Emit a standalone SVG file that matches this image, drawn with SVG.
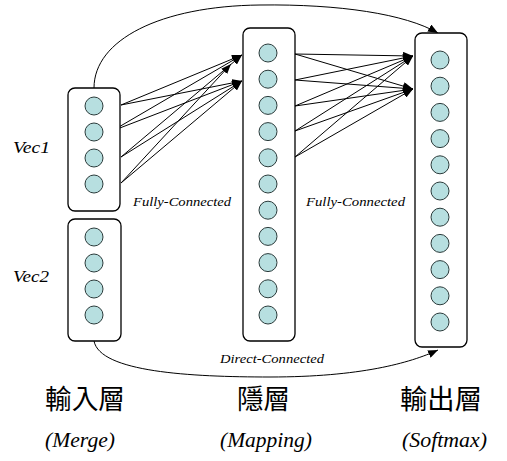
<svg xmlns="http://www.w3.org/2000/svg" width="507" height="461" viewBox="0 0 507 461">
<style>
.box{fill:#fff;stroke:#000;stroke-width:1.3}
.n{fill:#b7dfe0;stroke:#2b3b3b;stroke-width:1}
.ln{stroke:#000;stroke-width:1;fill:none;marker-end:url(#ah)}
.it{font-family:"Liberation Serif",serif;font-style:italic;fill:#000}
.cjk{font-family:"Noto Sans CJK TC","Noto Sans CJK SC",serif;font-size:27px;fill:#000}
</style>
<defs>
<marker id="ah" markerUnits="userSpaceOnUse" markerWidth="11" markerHeight="8" refX="10" refY="4" orient="auto">
<path d="M0,0 L10,4 L0,8 z" fill="#000"/>
</marker>
</defs>
<rect width="507" height="461" fill="#fff"/>
<g id="connectors">
<path class="ln" d="M94,88 C94,40 160,6 260,5 C340,4 405,14 438,33"/>
<path class="ln" d="M94,341 C100,372 190,377 270,377 C360,377 410,363 438,350"/>
<line class="ln" x1="121" y1="105" x2="242" y2="55"/>
<line class="ln" x1="121" y1="105" x2="242" y2="81"/>
<line class="ln" x1="112" y1="131" x2="242" y2="55"/>
<line class="ln" x1="112" y1="131" x2="242" y2="81"/>
<line class="ln" x1="121" y1="157" x2="242" y2="55"/>
<line class="ln" x1="121" y1="157" x2="242" y2="81"/>
<line class="ln" x1="121" y1="183" x2="231" y2="64"/>
<line class="ln" x1="121" y1="183" x2="242" y2="81"/>
<line class="ln" x1="295" y1="54" x2="413" y2="56"/>
<line class="ln" x1="295" y1="54" x2="413" y2="89"/>
<line class="ln" x1="295" y1="80" x2="413" y2="56"/>
<line class="ln" x1="295" y1="80" x2="413" y2="89"/>
<line class="ln" x1="295" y1="106" x2="413" y2="56"/>
<line class="ln" x1="295" y1="106" x2="413" y2="89"/>
<line class="ln" x1="295" y1="131" x2="413" y2="56"/>
<line class="ln" x1="295" y1="131" x2="413" y2="89"/>
<line class="ln" x1="295" y1="157" x2="413" y2="56"/>
<line class="ln" x1="295" y1="157" x2="413" y2="89"/>
</g>
<g id="vec1">
<rect class="box" x="68" y="88" width="52" height="123" rx="7"/>
<circle class="n" cx="94" cy="106" r="9"/>
<circle class="n" cx="94" cy="132" r="9"/>
<circle class="n" cx="94" cy="158" r="9"/>
<circle class="n" cx="94" cy="184" r="9"/>
</g>
<g id="vec2">
<rect class="box" x="68" y="219" width="53" height="122" rx="7"/>
<circle class="n" cx="94" cy="237" r="9"/>
<circle class="n" cx="94" cy="263" r="9"/>
<circle class="n" cx="94" cy="289" r="9"/>
<circle class="n" cx="94" cy="315" r="9"/>
</g>
<g id="hidden">
<rect class="box" x="243" y="28" width="52" height="313" rx="7"/>
<circle class="n" cx="268" cy="53" r="9"/>
<circle class="n" cx="268" cy="79.2" r="9"/>
<circle class="n" cx="268" cy="105.4" r="9"/>
<circle class="n" cx="268" cy="131.6" r="9"/>
<circle class="n" cx="268" cy="157.8" r="9"/>
<circle class="n" cx="268" cy="184" r="9"/>
<circle class="n" cx="268" cy="210.2" r="9"/>
<circle class="n" cx="268" cy="236.4" r="9"/>
<circle class="n" cx="268" cy="262.6" r="9"/>
<circle class="n" cx="268" cy="288.8" r="9"/>
<circle class="n" cx="268" cy="315" r="9"/>
</g>
<g id="output">
<rect class="box" x="415" y="33" width="52" height="314" rx="7"/>
<circle class="n" cx="440" cy="60" r="9"/>
<circle class="n" cx="440" cy="86.2" r="9"/>
<circle class="n" cx="440" cy="112.4" r="9"/>
<circle class="n" cx="440" cy="138.6" r="9"/>
<circle class="n" cx="440" cy="164.8" r="9"/>
<circle class="n" cx="440" cy="191" r="9"/>
<circle class="n" cx="440" cy="217.2" r="9"/>
<circle class="n" cx="440" cy="243.4" r="9"/>
<circle class="n" cx="440" cy="269.6" r="9"/>
<circle class="n" cx="440" cy="295.8" r="9"/>
<circle class="n" cx="440" cy="322" r="9"/>
</g>
<g id="labels">
<text class="it" x="13" y="153" font-size="17" textLength="37" lengthAdjust="spacingAndGlyphs">Vec1</text>
<text class="it" x="13" y="282" font-size="17" textLength="36" lengthAdjust="spacingAndGlyphs">Vec2</text>
<text class="it" x="133" y="206" font-size="12.5" textLength="98" lengthAdjust="spacingAndGlyphs">Fully-Connected</text>
<text class="it" x="306" y="206" font-size="12.5" textLength="99" lengthAdjust="spacingAndGlyphs">Fully-Connected</text>
<text class="it" x="220" y="363" font-size="12" textLength="104" lengthAdjust="spacingAndGlyphs">Direct-Connected</text>
<text class="cjk" x="45" y="409" textLength="80" lengthAdjust="spacingAndGlyphs">輸入層</text>
<text class="cjk" x="237" y="409" textLength="53" lengthAdjust="spacingAndGlyphs">隱層</text>
<text class="cjk" x="400" y="409" textLength="82" lengthAdjust="spacingAndGlyphs">輸出層</text>
<text class="it" x="45" y="447" font-size="20" textLength="70" lengthAdjust="spacingAndGlyphs">(Merge)</text>
<text class="it" x="220" y="447" font-size="20" textLength="92" lengthAdjust="spacingAndGlyphs">(Mapping)</text>
<text class="it" x="402" y="447" font-size="20" textLength="85" lengthAdjust="spacingAndGlyphs">(Softmax)</text>
</g>
</svg>
